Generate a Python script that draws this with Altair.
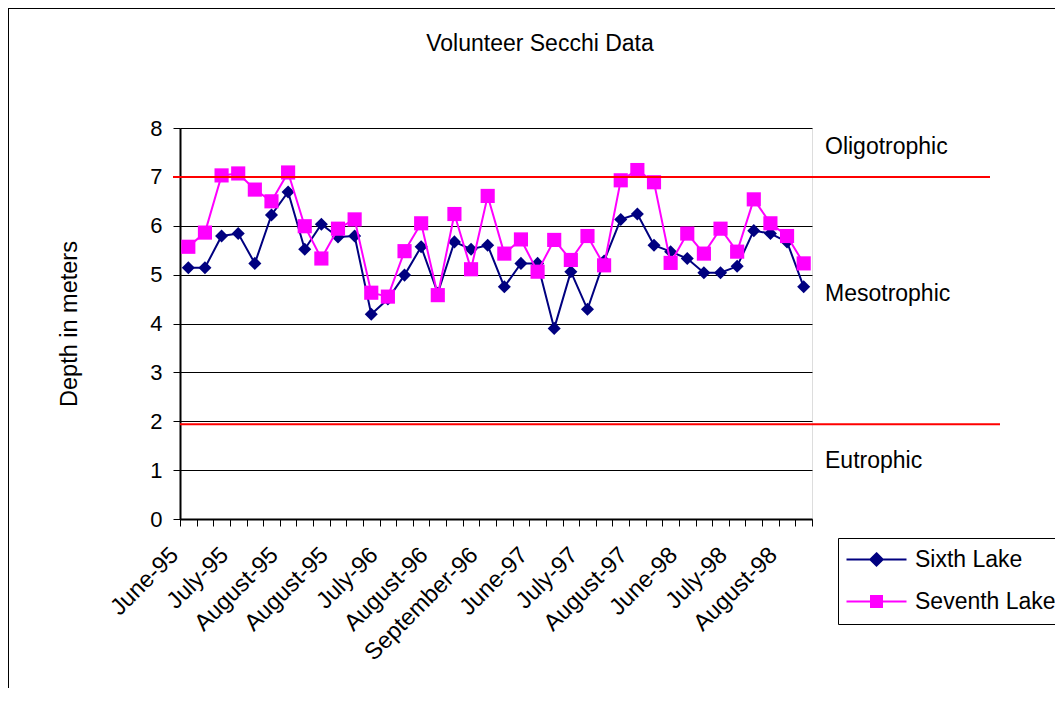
import json
import altair as alt
import pandas as pd

# ---------------- data ----------------
tick_labels = ["June-95", "July-95", "August-95", "August-95", "July-96", "August-96",
               "September-96", "June-97", "July-97", "August-97", "June-98", "July-98",
               "August-98"]
label_step = 3

sixth_lake = [5.14, 5.14, 5.79, 5.84, 5.23, 6.22, 6.69, 5.52, 6.03, 5.77,
              5.79, 4.19, 4.50, 4.99, 5.57, 4.62, 5.67, 5.52, 5.60, 4.75,
              5.23, 5.23, 3.90, 5.06, 4.29, 5.28, 6.13, 6.24, 5.60, 5.47,
              5.33, 5.04, 5.04, 5.17, 5.90, 5.84, 5.67, 4.75]
seventh_lake = [5.57, 5.86, 7.03, 7.07, 6.74, 6.50, 7.09, 5.99, 5.33, 5.94,
                6.13, 4.63, 4.55, 5.48, 6.05, 4.58, 6.24, 5.11, 6.61, 5.43,
                5.72, 5.06, 5.71, 5.30, 5.79, 5.19, 6.93, 7.14, 6.89, 5.24,
                5.84, 5.43, 5.94, 5.47, 6.54, 6.05, 5.79, 5.23]
series_names = ["Sixth Lake", "Seventh Lake"]

zone_labels = ["Oligotrophic", "Mesotrophic", "Eutrophic"]
zone_label_depth = [7.61, 4.60, 1.19]
upper_threshold = [7.0]
lower_threshold = [1.94]
chart_title = ["Volunteer Secchi Data"]

# ---------------- styles ----------------
FONT = "Liberation Sans"
NAVY = "#000080"
MAGENTA = "#FF00FF"
RED = "#FF0000"
FS = 23

n = len(sixth_lake)
df = pd.DataFrame({
    "idx": list(range(n)) * 2,
    "depth": sixth_lake + seventh_lake,
    "series": [series_names[0]] * n + [series_names[1]] * n,
})

label_expr = (f"datum.value % {label_step} == 0 ? "
              f"{json.dumps(tick_labels)}[floor(datum.value / {label_step})] : ''")

x_enc = alt.X(
    "idx:O",
    bandPosition=0.5,
    scale=alt.Scale(type="band", paddingInner=0, paddingOuter=0),
    axis=alt.Axis(title=None, labelExpr=label_expr, labelAngle=-45, labelAlign="right",
                  labelBaseline="middle", tickBand="extent", labelOverlap=False,
                  labelFontSize=23.5, labelFont=FONT, labelColor="black", labelPadding=25,
                  labelOffset=-14,
                  tickSize=7, tickColor="black", tickWidth=1, domainColor="black",
                  domainWidth=2, grid=False, labelBound=False),
)

y_scale = alt.Scale(domain=[0, 8], nice=False, zero=True)
y_axis = alt.Axis(title="Depth in meters", values=list(range(9)), grid=True,
                  gridColor="black", gridWidth=1, tickSize=7, tickColor="black",
                  domainColor="black", domainWidth=2, labelFontSize=22, labelFont=FONT,
                  labelColor="black", labelPadding=11, titleFontSize=23.5, titleFont=FONT,
                  titleFontWeight="normal", titleColor="black", titlePadding=68)

def y_of(field):
    return alt.Y(field, scale=y_scale, axis=y_axis)

base = alt.Chart(df)

line6 = base.transform_filter(alt.datum.series == series_names[0]).mark_line(
    color=NAVY, strokeWidth=2).encode(x=x_enc, y=y_of("depth:Q"))
pts6 = base.transform_filter(alt.datum.series == series_names[0]).mark_point(
    shape="diamond", filled=True, size=170, color=NAVY, opacity=1).encode(x=x_enc, y=y_of("depth:Q"))
line7 = base.transform_filter(alt.datum.series == series_names[1]).mark_line(
    color=MAGENTA, strokeWidth=2).encode(x=x_enc, y=y_of("depth:Q"))
pts7 = base.transform_filter(alt.datum.series == series_names[1]).mark_point(
    shape="square", filled=True, size=200, color=MAGENTA, opacity=1).encode(x=x_enc, y=y_of("depth:Q"))

rule_hi = alt.Chart(pd.DataFrame({"v": upper_threshold})).mark_rule(
    color=RED, strokeWidth=2).encode(y=y_of("v:Q"), x=alt.value(-7), x2=alt.value(810))
rule_lo = alt.Chart(pd.DataFrame({"v": lower_threshold})).mark_rule(
    color=RED, strokeWidth=2).encode(y=y_of("v:Q"), x=alt.value(0), x2=alt.value(820))

zones = alt.Chart(pd.DataFrame({"label": zone_labels, "v": zone_label_depth})).mark_text(
    align="left", baseline="middle", font=FONT, fontSize=FS, color="black").encode(
    y=y_of("v:Q"), x=alt.value(645), text="label:N")

title_layer = alt.Chart(pd.DataFrame({"t": chart_title})).mark_text(
    align="center", baseline="middle", font=FONT, fontSize=FS, color="black").encode(
    x=alt.value(360), y=alt.value(-84), text="t:N")

diamond_path = "M-3,0H3M0,-0.62L0.62,0L0,0.62L-0.62,0Z"
square_path = "M-3,0H3M-0.55,-0.55H0.55V0.55H-0.55Z"
leg = alt.Legend(title=None, orient="none", legendX=658, legendY=410, fillColor="white",
                 strokeColor="black", padding=10, symbolOffset=17, labelOffset=27,
                 rowPadding=18, labelFontSize=FS, labelFont=FONT, labelColor="black",
                 symbolSize=400, symbolStrokeWidth=2, cornerRadius=0)
legend_layer = base.mark_point(filled=True, size=400, opacity=1).encode(
    shape=alt.Shape("series:N", scale=alt.Scale(domain=series_names, range=[diamond_path, square_path]), legend=leg),
    color=alt.Color("series:N", scale=alt.Scale(domain=series_names, range=[NAVY, MAGENTA]), legend=leg),
    stroke=alt.Stroke("series:N", scale=alt.Scale(domain=series_names, range=[NAVY, MAGENTA]), legend=leg),
).transform_filter("false")

frame_left = alt.Chart(pd.DataFrame({"a": [0]})).mark_rule(color="black", strokeWidth=1).encode(
    x=alt.value(-171.5), y=alt.value(-120), y2=alt.value(560))
frame_top = alt.Chart(pd.DataFrame({"a": [0]})).mark_rule(color="black", strokeWidth=1).encode(
    x=alt.value(-172), x2=alt.value(875), y=alt.value(-119.5))

chart = alt.layer(
    line6, pts6, line7, pts7, rule_hi, rule_lo, zones, title_layer, legend_layer,
    frame_left, frame_top
).properties(
    width=632, height=391,
    autosize=alt.AutoSizeParams(type="none"),
    padding={"left": 172, "top": 120, "right": 243, "bottom": 169},
).configure_view(stroke="black", strokeWidth=1.5).configure(background="white")

chart.save("out.html", embed_options={"renderer": "svg", "actions": False})
